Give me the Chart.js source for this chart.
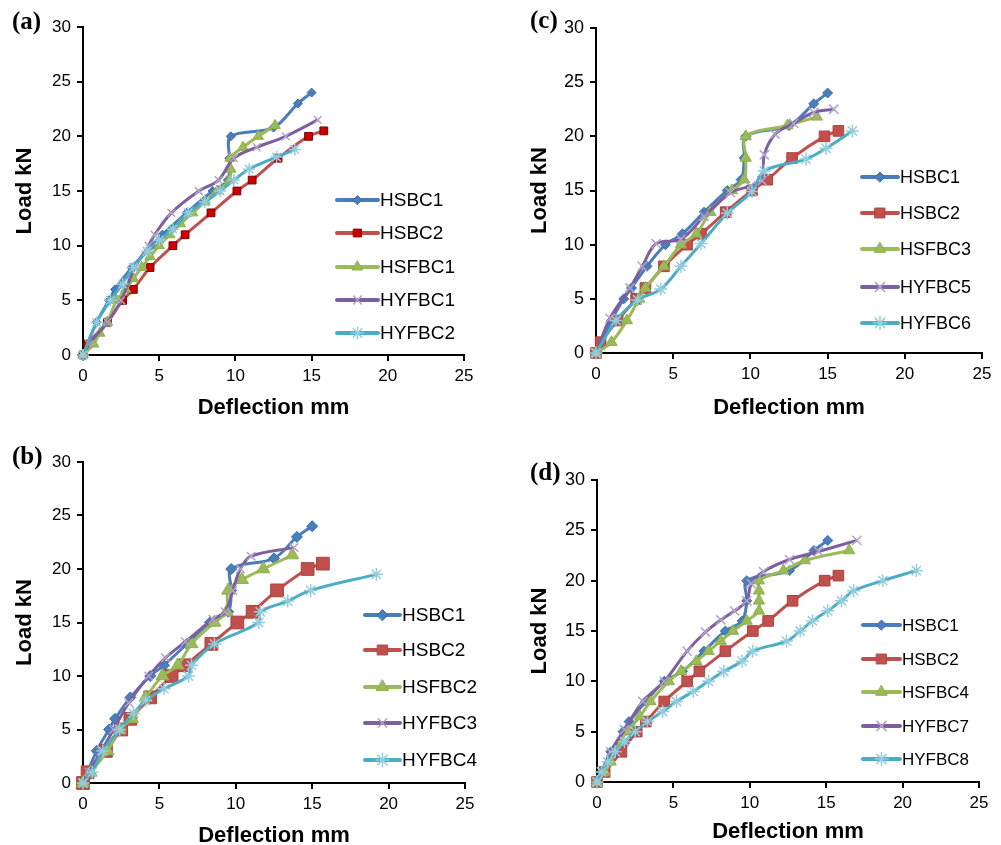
<!DOCTYPE html>
<html><head><meta charset="utf-8">
<script src="https://cdn.jsdelivr.net/npm/chart.js@4.4.0/dist/chart.umd.min.js"></script>
<style>
html,body{margin:0;padding:0;background:#fff;}
#wrap{position:relative;width:1001px;height:845px;overflow:hidden;background:#fff;}
canvas{position:absolute;}
</style></head><body>
<div id="wrap">
<canvas id="ca" style="left:0px;top:0px" width="500" height="420"></canvas>
<canvas id="cb" style="left:0px;top:420px" width="500" height="425"></canvas>
<canvas id="cc" style="left:500px;top:0px" width="501" height="420"></canvas>
<canvas id="cd" style="left:500px;top:420px" width="501" height="425"></canvas>
</div>
<script>
// ---------- tick labels ----------
const xTicks = [0, 5, 10, 15, 20, 25];
const yTicks = [0, 5, 10, 15, 20, 25, 30];
const xTitle = 'Deflection mm';
const yTitle = 'Load kN';

// ---------- panel (a) ----------
const a_names = ['HSBC1', 'HSBC2', 'HSFBC1', 'HYFBC1', 'HYFBC2'];
const a_HSBC1_x = [0, 0.9, 1.7, 2.1, 3.2, 4.5, 5.2, 6.8, 8.5, 9.5, 9.6, 9.7, 12.5, 14.1, 15.0];
const a_HSBC1_y = [0, 3, 5, 6, 8, 10, 11, 13, 15, 16, 18, 20, 20.8, 23, 24];
const a_HSBC2_x = [0, 0.3, 1.6, 2.6, 3.3, 4.4, 5.9, 6.7, 8.4, 10.1, 11.1, 12.8, 14.8, 15.8];
const a_HSBC2_y = [0, 1, 3, 5, 6, 8, 10, 11, 13, 15, 16, 18, 20, 20.5];
const a_HSFBC1_x = [0, 0.7, 1.1, 1.6, 2.2, 2.8, 3.3, 3.85, 4.4, 5.0, 5.7, 6.4, 7.2, 8.0, 8.8, 9.6, 9.7, 9.65, 10.5, 11.5, 12.6];
const a_HSFBC1_y = [0, 1, 2, 3, 5, 6, 7, 8, 9, 10, 11, 12, 13, 14, 15, 16, 17, 18, 19, 20, 21];
const a_HYFBC1_x = [0, 0.4, 1.6, 2.5, 3.4, 4.3, 4.7, 5.8, 7.6, 8.9, 9.9, 11.4, 13.3, 15.4];
const a_HYFBC1_y = [0, 1, 3, 5, 8, 10, 11, 13, 15, 16, 18, 19, 20, 21.5];
const a_HYFBC2_x = [0, 0.9, 1.8, 2.6, 3.3, 4.2, 5.0, 5.9, 6.9, 8.0, 9.0, 9.9, 10.9, 12.7, 13.9];
const a_HYFBC2_y = [0, 3, 5, 6.5, 8, 9.5, 10.5, 11.5, 13, 14, 15, 16, 17, 18.1, 18.8];

// ---------- panel (b) ----------
const b_names = ['HSBC1', 'HSBC2', 'HSFBC2', 'HYFBC3', 'HYFBC4'];
const b_HSBC1_x = [0, 0.9, 1.7, 2.1, 3.1, 4.4, 5.3, 6.8, 8.3, 9.5, 9.7, 9.7, 12.5, 14.0, 15.0];
const b_HSBC1_y = [0, 3, 5, 6, 8, 10, 11, 13, 15, 16, 18, 20, 21, 23, 24];
const b_HSBC2_x = [0, 0.3, 1.5, 2.5, 3.1, 4.4, 5.8, 6.7, 8.4, 10.1, 11.1, 12.7, 14.7, 15.7];
const b_HSBC2_y = [0, 1, 3, 5, 6, 8, 10, 11, 13, 15, 16, 18, 20, 20.5];
const b_HSFBC2_x = [0, 0.5, 1.6, 2.4, 3.2, 4.1, 5.2, 6.2, 7.1, 8.6, 9.4, 9.5, 10.4, 11.8, 13.7];
const b_HSFBC2_y = [0, 1, 3, 5, 6, 8, 10, 11, 13, 15, 16, 18, 19, 20, 21.3];
const b_HYFBC3_x = [0, 0.4, 1.2, 2.0, 3.0, 4.3, 5.4, 6.7, 8.5, 9.3, 9.8, 10.3, 11.0, 13.8];
const b_HYFBC3_y = [0, 1, 3, 5, 7.5, 10, 11.7, 13.2, 15.3, 16, 18, 20, 21.2, 22];
const b_HYFBC4_x = [0, 0.6, 1.3, 2.4, 3.3, 4.1, 5.3, 6.9, 7.1, 8.6, 11.5, 11.6, 13.4, 14.9, 19.2];
const b_HYFBC4_y = [0, 1, 3, 5, 6.5, 7.7, 8.8, 10, 11, 13, 15, 16, 17, 18, 19.5];

// ---------- panel (c) ----------
const c_names = ['HSBC1', 'HSBC2', 'HSFBC3', 'HYFBC5', 'HYFBC6'];
const c_HSBC1_x = [0, 1.0, 1.8, 2.3, 3.3, 4.5, 5.6, 7.0, 8.5, 9.4, 9.6, 9.7, 12.5, 14.1, 15.0];
const c_HSBC1_y = [0, 3, 5, 6, 8, 10, 11, 13, 15, 16, 18, 20, 21, 23, 24];
const c_HSBC2_x = [0, 0.3, 1.4, 2.6, 3.2, 4.4, 5.9, 6.8, 8.4, 10.1, 11.1, 12.7, 14.8, 15.7];
const c_HSBC2_y = [0, 1, 3, 5, 6, 8, 10, 11, 13, 15, 16, 18, 20, 20.5];
const c_HSFBC3_x = [0, 1.0, 2.0, 2.8, 3.2, 4.4, 5.5, 6.5, 7.4, 8.8, 9.6, 9.7, 9.7, 12.4, 14.3];
const c_HSFBC3_y = [0, 1, 3, 5, 6, 8, 10, 11, 13, 15, 16, 18, 20, 21, 21.8];
const c_HYFBC5_x = [0, 0.9, 2.2, 3.0, 3.9, 5.5, 7.0, 8.7, 10.0, 10.75, 10.9, 11.6, 12.8, 14.1, 15.4];
const c_HYFBC5_y = [0, 3.2, 6, 8, 10.1, 10.5, 12.6, 14.8, 15.4, 15.9, 18.3, 20.2, 21.2, 22.2, 22.5];
const c_HYFBC6_x = [0, 1.3, 2.7, 4.2, 5.5, 6.8, 8.5, 10.1, 10.9, 13.6, 14.9, 16.6];
const c_HYFBC6_y = [0, 3, 4.9, 5.9, 8, 10.1, 12.9, 14.9, 16.8, 17.9, 18.9, 20.5];

// ---------- panel (d) ----------
const d_names = ['HSBC1', 'HSBC2', 'HSFBC4', 'HYFBC7', 'HYFBC8'];
const d_HSBC1_x = [0, 0.3, 0.9, 1.7, 2.1, 3.2, 4.4, 5.6, 7.0, 8.4, 9.5, 9.8, 9.8, 12.6, 14.2, 15.1];
const d_HSBC1_y = [0, 1, 3, 5, 6, 8, 10, 11, 13, 15, 16, 18, 20, 21, 23, 24];
const d_HSBC2_x = [0, 0.5, 1.6, 2.6, 3.2, 4.4, 5.9, 6.7, 8.4, 10.2, 11.2, 12.8, 14.9, 15.8];
const d_HSBC2_y = [0, 1, 3, 5, 6, 8, 10, 11, 13, 15, 16, 18, 20, 20.5];
const d_HSFBC4_x = [0, 0.5, 0.9, 1.5, 2.0, 2.8, 3.5, 4.7, 5.5, 6.5, 7.3, 8.1, 8.9, 9.8, 10.6, 10.6, 10.6, 10.6, 12.2, 13.6, 16.5];
const d_HSFBC4_y = [0, 1, 2, 4, 5, 6.5, 8, 10, 11, 12, 13, 14, 15, 16, 17, 18, 19, 20, 21, 22, 23];
const d_HYFBC7_x = [0, 0.3, 0.9, 1.8, 3.0, 4.4, 5.9, 7.1, 8.1, 9.0, 9.8, 10.1, 10.9, 12.6, 14.5, 17.0];
const d_HYFBC7_y = [0, 1, 3, 5.2, 8, 10, 13, 14.9, 16.1, 17, 18, 19.7, 20.9, 22.1, 22.9, 24];
const d_HYFBC8_x = [0, 0.3, 0.7, 1.2, 1.8, 2.5, 3.3, 4.3, 5.2, 6.3, 7.3, 8.3, 9.5, 10.2, 12.4, 13.3, 14.1, 15.1, 16.0, 16.8, 18.7, 20.9];
const d_HYFBC8_y = [0, 1, 2, 3, 4, 5, 6, 7, 8, 9, 10, 11, 12, 13, 14, 15, 16, 17, 18, 19, 20, 21];

// ---------- styles ----------
const STYLE = [
  {line: '#4A7EBB', ps: 'rectRot', fill: '#4A7EBB', stroke: '#3F6FAA', bw: 1},
  {line: '#C0504D', ps: 'rect', fill: '#C0504D', stroke: '#B0403D', bw: 1},
  {line: '#9BBB59', ps: 'triangle', fill: '#9BBB59', stroke: '#8FAF4D', bw: 1},
  {line: '#7D5FA0', ps: 'crossRot', fill: '#B3A2C7', stroke: '#B3A2C7', bw: 1.5},
  {line: '#4BACC6', ps: 'star', fill: '#93CDDD', stroke: '#93CDDD', bw: 1.5}
];

const sans = '"Liberation Sans", Arial, sans-serif';

const PANELS = [
  {id: 'ca', left: 0, top: 0, w: 500, h: 420, L: 83, T: 27, R: 464, B: 355,
   label: '(a)', labelX: 12, labelY: 23, legX1: 337, legX2: 378, legY: [200, 233, 267, 300, 333], legFont: 19,
   yTitleX: 25, xTitleY: 408, tickFontX: {family: sans, size: 17}, tickFontY: {family: sans, size: 17},
   radii: [4.5, 5.5, 6, 5.5, 6], sqFill: '#CC0000', sqStroke: '#7A0000',
   names: a_names, xs: [a_HSBC1_x, a_HSBC2_x, a_HSFBC1_x, a_HYFBC1_x, a_HYFBC2_x], ys: [a_HSBC1_y, a_HSBC2_y, a_HSFBC1_y, a_HYFBC1_y, a_HYFBC2_y]},
  {id: 'cb', left: 0, top: 420, w: 500, h: 425, L: 83, T: 42, R: 465, B: 363,
   label: '(b)', labelX: 12, labelY: 458, legX1: 365, legX2: 400, legY: [615, 650, 687, 723, 760], legFont: 19,
   yTitleX: 25, xTitleY: 836, tickFontX: {family: sans, size: 17}, tickFontY: {family: sans, size: 17},
   radii: [5.5, 9, 7.5, 6, 6.5],
   names: b_names, xs: [b_HSBC1_x, b_HSBC2_x, b_HSFBC2_x, b_HYFBC3_x, b_HYFBC4_x], ys: [b_HSBC1_y, b_HSBC2_y, b_HSFBC2_y, b_HYFBC3_y, b_HYFBC4_y]},
  {id: 'cc', left: 500, top: 0, w: 501, h: 420, L: 96, T: 28, R: 482, B: 353,
   label: '(c)', labelX: 530, labelY: 22, legX1: 862, legX2: 898, legY: [177, 213, 249, 287, 323], legFont: 18,
   yTitleX: 540, xTitleY: 408, tickFontX: {family: sans, size: 17}, tickFontY: {family: sans, size: 18},
   radii: [5, 7.5, 6.5, 6.5, 6.5],
   names: c_names, xs: [c_HSBC1_x, c_HSBC2_x, c_HSFBC3_x, c_HYFBC5_x, c_HYFBC6_x], ys: [c_HSBC1_y, c_HSBC2_y, c_HSFBC3_y, c_HYFBC5_y, c_HYFBC6_y]},
  {id: 'cd', left: 500, top: 420, w: 501, h: 425, L: 97, T: 60, R: 479, B: 362,
   label: '(d)', labelX: 530, labelY: 474, legX1: 863, legX2: 900, legY: [625, 659, 692, 726, 759], legFont: 17,
   yTitleX: 540, xTitleY: 832, tickFontX: {family: sans, size: 17}, tickFontY: {family: sans, size: 18},
   radii: [5, 7.5, 6.5, 6.5, 6.5],
   names: d_names, xs: [d_HSBC1_x, d_HSBC2_x, d_HSFBC4_x, d_HYFBC7_x, d_HYFBC8_x], ys: [d_HSBC1_y, d_HSBC2_y, d_HSFBC4_y, d_HYFBC7_y, d_HYFBC8_y]}
];

const overlay = {
  id: 'overlay',
  afterDraw(chart, args, opts) {
    const p = opts.p, ctx = chart.ctx;
    ctx.save();
    ctx.fillStyle = '#000';
    ctx.font = 'bold 25px "Liberation Serif", "Times New Roman", serif';
    ctx.textAlign = 'left'; ctx.textBaseline = 'middle';
    ctx.fillText(p.label, p.labelX - p.left, p.labelY - p.top);
    chart.data.datasets.forEach((ds, i) => {
      const y = p.legY[i] - p.top;
      const x1 = p.legX1 - p.left, x2 = p.legX2 - p.left;
      ctx.strokeStyle = ds.borderColor; ctx.lineWidth = 4; ctx.lineCap = 'round';
      ctx.beginPath(); ctx.moveTo(x1, y); ctx.lineTo(x2, y); ctx.stroke();
      ctx.fillStyle = ds.pointBackgroundColor; ctx.strokeStyle = ds.pointBorderColor; ctx.lineWidth = ds.pointBorderWidth;
      Chart.helpers.drawPoint(ctx, {pointStyle: ds.pointStyle, radius: Math.min(ds.pointRadius, 7), rotation: 0, borderWidth: ds.pointBorderWidth}, (x1 + x2) / 2, y);
      ctx.fillStyle = '#000';
      ctx.font = p.legFont + 'px ' + sans;
      ctx.fillText(ds.label, x2 + 2, y + 1);
    });
    ctx.restore();
  }
};

PANELS.forEach(p => {
  const datasets = p.names.map((n, i) => {
    const st = STYLE[i];
    return {
      label: n,
      data: p.xs[i].map((x, k) => ({x: x, y: p.ys[i][k]})),
      showLine: true,
      borderColor: st.line,
      backgroundColor: st.line,
      borderWidth: 3,
      tension: 0.35,
      pointStyle: st.ps,
      pointRadius: p.radii[i],
      pointHoverRadius: p.radii[i],
      pointBackgroundColor: (i === 1 && p.sqFill) ? p.sqFill : st.fill,
      pointBorderColor: (i === 1 && p.sqStroke) ? p.sqStroke : st.stroke,
      pointBorderWidth: st.bw,
      order: 5 - i,
      clip: false
    };
  });
  const titleFont = {family: sans, weight: 'bold', size: 22, lineHeight: 0.8};
  new Chart(document.getElementById(p.id), {
    type: 'scatter',
    data: {datasets},
    plugins: [overlay],
    options: {
      responsive: false,
      animation: false,
      devicePixelRatio: 1,
      events: [],
      layout: {padding: {left: 0, top: p.T, right: p.w - p.R, bottom: 0}},
      plugins: {legend: {display: false}, tooltip: {enabled: false}, overlay: {p: p}},
      scales: {
        x: {
          type: 'linear', min: 0, max: 25,
          afterBuildTicks: s => { s.ticks = xTicks.map(v => ({value: v})); },
          afterFit: s => { s.height = p.h - p.B; },
          ticks: {font: p.tickFontX, color: '#000', padding: 5, maxRotation: 0, autoSkip: false},
          grid: {display: true, drawOnChartArea: false, drawTicks: true, tickLength: 6, color: '#000', lineWidth: 2},
          border: {display: true, color: '#000', width: 2},
          title: {display: true, text: xTitle, color: '#000', font: titleFont,
                  padding: {top: 0, bottom: (p.h - (p.xTitleY - p.top)) - 22 * 0.8 / 2}}
        },
        y: {
          type: 'linear', min: 0, max: 30,
          afterBuildTicks: s => { s.ticks = yTicks.map(v => ({value: v})); },
          afterFit: s => { s.width = p.L; },
          ticks: {font: p.tickFontY, color: '#000', padding: 6, autoSkip: false},
          grid: {display: true, drawOnChartArea: false, drawTicks: true, tickLength: 6, color: '#000', lineWidth: 2},
          border: {display: true, color: '#000', width: 2},
          title: {display: true, text: yTitle, color: '#000', font: titleFont,
                  padding: {top: (p.yTitleX - p.left) - 22 * 0.8 / 2, bottom: 0}}
        }
      }
    }
  });
});
</script>
</body></html>
